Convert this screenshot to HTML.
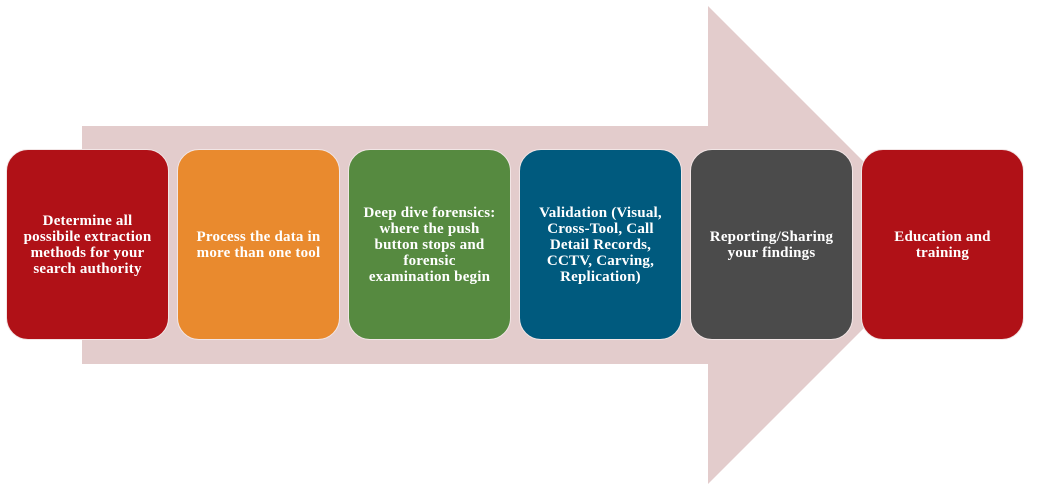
<!DOCTYPE html>
<html><head><style>
body{margin:0;width:1042px;height:499px;background:#fff;position:relative;overflow:hidden;font-family:"Liberation Serif",serif;}
.b{position:absolute;top:149px;width:159px;height:189px;border:1.5px solid #f2e6e6;border-radius:22px;display:flex;align-items:center;justify-content:center;text-align:center;color:#fff;font-weight:bold;font-size:15px;line-height:16px;box-sizing:content-box;padding:0 1px;white-space:nowrap;letter-spacing:0.2px;}
.b span{display:block;}
</style></head><body>
<svg width="1042" height="499" style="position:absolute;left:0;top:0">
<polygon points="82,126 708,126 708,6 947,245 708,484 708,364 82,364" fill="#e3cccc"/>
</svg>
<div class="b" style="left:6px;background:#b01117"><span>Determine all<br>possibile extraction<br>methods for your<br>search authority</span></div>
<div class="b" style="left:177px;background:#e98a2e"><span>Process the data in<br>more than one tool</span></div>
<div class="b" style="left:348px;background:#568a40"><span>Deep dive forensics:<br>where the push<br>button stops and<br>forensic<br>examination begin</span></div>
<div class="b" style="left:519px;background:#005a7e"><span>Validation (Visual,<br>Cross-Tool, Call<br>Detail Records,<br>CCTV, Carving,<br>Replication)</span></div>
<div class="b" style="left:690px;background:#4b4b4b"><span>Reporting/Sharing<br>your findings</span></div>
<div class="b" style="left:861px;background:#b01117"><span>Education and<br>training</span></div>
</body></html>
